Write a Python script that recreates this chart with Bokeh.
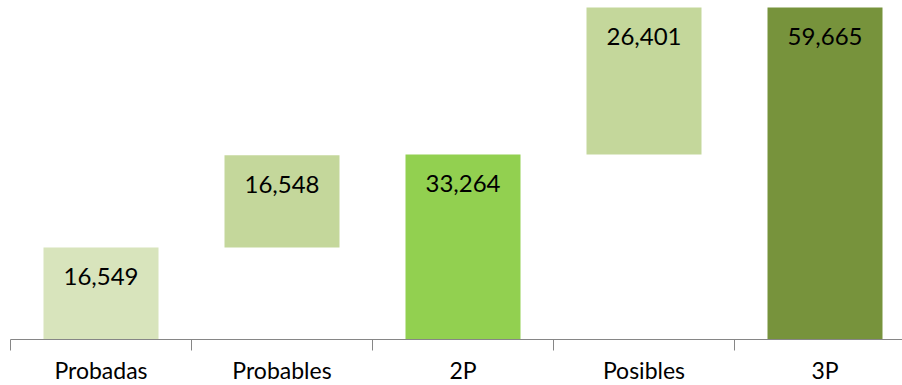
from bokeh.plotting import figure
from bokeh.models import ColumnDataSource, Range1d, FixedTicker
from bokeh.core.properties import value
from bokeh.embed import file_html
from bokeh.resources import INLINE

categories = ["Probadas", "Probables", "2P", "Posibles", "3P"]
values = [16549, 16548, 33264, 26401, 59665]
is_total = [False, False, True, False, True]
colors = ["#d8e4bc", "#c4d79b", "#92d050", "#c4d79b", "#77933c"]

xs = list(range(len(categories)))
bottoms, tops = [], []
running = 0
for v, tot in zip(values, is_total):
    if tot:
        bottoms.append(0)
        tops.append(v)
        running = v
    else:
        bottoms.append(running)
        tops.append(running + v)
        running += v

labels = [f"{v:,}" for v in values]
src = ColumnDataSource(dict(x=xs, bottom=bottoms, top=tops, color=colors, label=labels))

FRAME_W = 892
CAT_W = 181
p = figure(frame_width=FRAME_W, frame_height=339, output_backend="svg", toolbar_location=None,
           x_range=Range1d(-0.5, -0.5 + FRAME_W / CAT_W), y_range=Range1d(0, 60920),
           min_border_left=10, min_border_right=0, min_border_top=0, min_border_bottom=0)
p.outline_line_color = None
p.grid.visible = False
p.yaxis.visible = False
p.background_fill_color = "white"
p.border_fill_color = "white"

p.vbar(x="x", width=115 / CAT_W, bottom="bottom", top="top", fill_color="color",
       line_color=None, source=src)
p.text(x="x", y="top", text="label", source=src, y_offset=29, text_align="center",
       text_baseline="middle", text_font=value("Lato"), text_font_size="24px", text_color="black")

ax = p.xaxis[0]
ax.ticker = FixedTicker(ticks=xs, minor_ticks=[i - 0.5 for i in range(len(categories) + 1)])
ax.major_label_overrides = {i: c for i, c in enumerate(categories)}
ax.major_tick_out = 0
ax.major_tick_in = 0
ax.minor_tick_out = 11
ax.minor_tick_in = 0
ax.minor_tick_line_color = "#868686"
ax.axis_line_color = "#868686"
ax.axis_line_width = 1
ax.minor_tick_line_width = 1
ax.major_label_standoff = 5
ax.major_label_text_font = "Lato"
ax.major_label_text_font_size = "23px"
ax.major_label_text_color = "black"

open("out.html", "w").write(file_html(p, INLINE))
